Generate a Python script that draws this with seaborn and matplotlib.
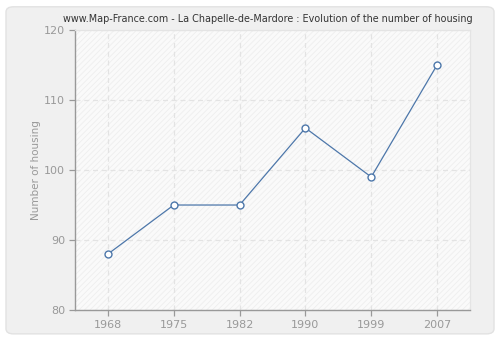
import matplotlib
matplotlib.use("Agg")
import matplotlib.pyplot as plt
from matplotlib.patches import FancyBboxPatch
import seaborn as sns
import pandas as pd

years = ["1968", "1975", "1982", "1990", "1999", "2007"]
housing = [88, 95, 95, 106, 99, 115]
y_ticks = [80, 90, 100, 110, 120]

title = "www.Map-France.com - La Chapelle-de-Mardore : Evolution of the number of housing"
y_label = "Number of housing"

sns.set_style("white")
plt.rcParams["font.family"] = ["DejaVu Sans"]
plt.rcParams["hatch.color"] = "#ebebeb"
plt.rcParams["hatch.linewidth"] = 0.6

fig = plt.figure(figsize=(5.0, 3.4), dpi=100)
fig.patch.set_facecolor("white")

# rounded light-grey frame behind everything
frame = FancyBboxPatch((0.012, 0.018), 0.976, 0.962,
                       boxstyle="round,pad=0,rounding_size=0.015",
                       transform=fig.transFigure, facecolor="#f0f0f0",
                       edgecolor="#e2e2e2", linewidth=1.0, zorder=-10)
fig.patches.append(frame)

ax = fig.add_axes([0.15, 0.088, 0.79, 0.824])
ax.set_facecolor("#fafafa")
ax.patch.set_hatch("//////")
ax.patch.set_edgecolor("#eeeeee")

df = pd.DataFrame({"year": years, "housing": housing})
sns.lineplot(data=df, x="year", y="housing", ax=ax, color="#4d77aa",
             linewidth=0.9, marker="o", markersize=5,
             markerfacecolor="white", markeredgecolor="#4d77aa",
             markeredgewidth=1.0, sort=False, zorder=3)

ax.set_xlim(-0.5, len(years) - 0.5)
ax.set_ylim(y_ticks[0], y_ticks[-1])
ax.set_yticks(y_ticks)
ax.set_xticks(range(len(years)))
ax.set_xticklabels(years)

ax.grid(True, color="#e3e3e3", linestyle=(0, (4, 3)), linewidth=0.9)
ax.set_axisbelow(True)

for side in ("top", "right"):
    ax.spines[side].set_color("#e4e4e4")
    ax.spines[side].set_linewidth(0.9)
for side in ("left", "bottom"):
    ax.spines[side].set_color("#999999")
    ax.spines[side].set_linewidth(1.0)

ax.tick_params(axis="both", which="both", length=4, width=0.9,
               color="#999999", labelcolor="#999999", labelsize=8,
               left=True, bottom=True, pad=3)

ax.set_xlabel("")
ax.set_ylabel(y_label, color="#999999", fontsize=7.5, labelpad=2)
ax.set_title(title, color="#333333", fontsize=6.9, pad=6, x=0.487)

fig.savefig("out.png", dpi=100, facecolor=fig.get_facecolor())
